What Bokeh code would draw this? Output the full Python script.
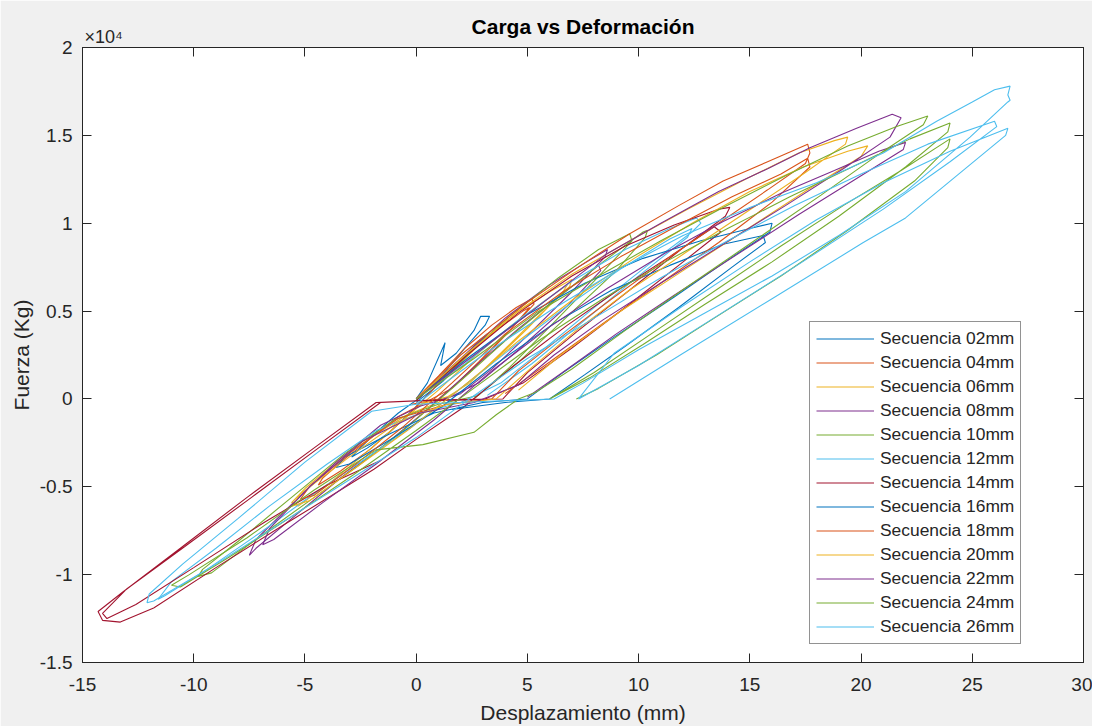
from bokeh.plotting import figure
from bokeh.models import Range1d, FixedTicker, LinearAxis, Legend, LegendItem, Title
from bokeh.embed import file_html
from bokeh.resources import INLINE

# ---------------- data ----------------
x_ticks = [-15, -10, -5, 0, 5, 10, 15, 20, 25, 30]
x_tick_labels = ["-15", "-10", "-5", "0", "5", "10", "15", "20", "25", "30"]
y_ticks = [-15000, -10000, -5000, 0, 5000, 10000, 15000, 20000]
y_tick_labels = ["-1.5", "-1", "-0.5", "0", "0.5", "1", "1.5", "2"]

series_names = ["Secuencia 02mm", "Secuencia 04mm", "Secuencia 06mm", "Secuencia 08mm",
                "Secuencia 10mm", "Secuencia 12mm", "Secuencia 14mm", "Secuencia 16mm",
                "Secuencia 18mm", "Secuencia 20mm", "Secuencia 22mm", "Secuencia 24mm",
                "Secuencia 26mm"]
series_colors = ["#0072BD", "#D95319", "#EDB120", "#7E2F8E", "#77AC30", "#4DBEEE", "#A2142F",
                 "#0072BD", "#D95319", "#EDB120", "#7E2F8E", "#77AC30", "#4DBEEE"]

# (displacement mm, force Kg)
seq02 = [(0.0, 0), (0.5, 900), (1.3, 3200), (1.1, 1900), (1.8, 2600), (2.6, 3900), (2.9, 4700),
         (3.3, 4700), (3.1, 4200), (2.2, 2900), (1.2, 1400), (0.2, 100), (-0.8, -800),
         (-1.8, -1900), (-2.6, -2900), (-2.9, -3300), (-2.2, -2800), (-1.2, -1900), (-0.2, -700),
         (0.8, 600), (1.8, 1900), (2.8, 3300), (3.2, 3700), (2.4, 2600), (1.2, 1000), (0.0, -200)]

seq04 = [(0.0, 0), (1.0, 1300), (2.2, 2900), (3.4, 4200), (4.5, 5200), (5.2, 5700), (5.3, 5400),
         (4.2, 3900), (2.8, 2100), (1.6, 600), (0.4, -200), (-0.8, -1000), (-2.0, -2200),
         (-3.2, -3400), (-4.2, -4500), (-4.4, -4900), (-3.4, -4100), (-2.0, -2800), (-0.6, -1200),
         (0.8, 600), (2.2, 2400), (3.6, 3900), (4.8, 5000), (5.1, 5200), (4.0, 3600), (2.4, 1500),
         (1.0, 0), (-0.2, -300)]

seq06 = [(0.0, 0), (1.5, 1400), (3.0, 3300), (4.5, 4900), (6.0, 6100), (7.0, 6800), (6.9, 6400),
         (5.4, 4600), (3.8, 2600), (2.4, 900), (1.0, -200), (-0.4, -900), (-1.8, -2000),
         (-3.4, -3400), (-5.0, -5100), (-5.6, -5900), (-5.3, -6100), (-3.8, -4700), (-2.2, -3000),
         (-0.6, -1200), (1.0, 500), (2.6, 2400), (4.2, 4100), (5.8, 5600), (6.8, 6500), (6.6, 6100),
         (5.0, 4000), (3.2, 1800), (1.6, 200), (0.2, -300)]

seq08 = [(0.0, 0), (2.0, 2300), (4.0, 4600), (6.0, 6500), (7.8, 7900), (8.6, 8500), (8.5, 8100),
         (7.0, 6100), (5.0, 3600), (3.4, 1700), (2.0, 300), (0.2, -400), (-1.6, -1500),
         (-3.6, -3600), (-5.6, -6000), (-7.2, -8000), (-7.5, -8900), (-7.2, -8500), (-5.4, -6600),
         (-3.4, -4500), (-1.4, -2600), (0.6, -500), (2.6, 1800), (4.6, 4000), (6.6, 6000),
         (8.2, 7600), (8.3, 7300), (6.8, 5300), (4.6, 2800), (2.8, 900), (1.2, -100)]

seq10 = [(0.0, 0), (2.0, 2200), (4.2, 4700), (6.4, 6900), (8.2, 8500), (9.6, 9400), (9.7, 9000),
         (8.0, 6700), (6.0, 4100), (4.2, 1800), (2.8, 200), (1.0, -300), (-1.0, -1200),
         (-3.2, -3100), (-5.6, -5600), (-8.0, -8100), (-9.6, -9700), (-9.8, -10100), (-9.2, -9900),
         (-7.0, -7800), (-4.8, -5800), (-2.6, -3800), (-0.4, -1600), (1.8, 800), (4.0, 3300),
         (6.2, 5600), (8.4, 7800), (10.2, 9500), (10.4, 9600), (10.3, 9200), (9.0, 7300),
         (6.8, 4700), (4.6, 2100), (2.6, 0)]

seq12 = [(0.0, 0), (2.2, 2000), (4.6, 4500), (7.0, 6700), (9.4, 8500), (11.4, 9700), (12.6, 10300),
         (12.8, 10000), (12.4, 9500), (10.4, 7600), (8.0, 5200), (5.8, 2900), (3.8, 900),
         (2.0, -200), (0.2, -800), (-1.8, -1800), (-4.0, -3700), (-6.6, -6100), (-9.0, -8500),
         (-11.0, -10400), (-11.6, -11400), (-11.3, -11200), (-9.4, -9700), (-7.0, -7600),
         (-4.6, -5400), (-2.4, -3500), (-0.2, -1600), (2.0, 600), (4.4, 3000), (6.8, 5300),
         (9.2, 7400), (11.4, 9100), (12.4, 9700), (12.2, 9200), (10.0, 7000), (7.6, 4500),
         (5.2, 2000), (3.2, 200)]

seq14 = [(0.0, -100), (2.2, 2400), (4.6, 4900), (7.0, 7000), (9.4, 8700), (11.6, 9900),
         (13.6, 10800), (14.1, 10900), (13.9, 10400), (12.0, 8600), (9.6, 6200), (7.2, 3800),
         (5.0, 1500), (3.9, 0), (1.0, -50), (-1.8, -200), (-4.6, -2800), (-7.6, -5600),
         (-10.6, -8500), (-13.2, -11000), (-14.3, -12100), (-14.1, -12600), (-13.3, -12700),
         (-11.8, -11900), (-9.0, -9600), (-6.0, -7200), (-3.8, -5500), (-1.9, -4000), (0.0, -2300),
         (2.1, -500), (4.4, 1900), (6.8, 4200), (9.2, 6300), (11.4, 8100), (13.4, 9800),
         (13.7, 9500), (12.0, 7800), (9.6, 5400), (7.0, 2900), (4.8, 900), (3.0, -50), (0.2, -100),
         (-1.6, -200), (-4.4, -2800), (-7.4, -5600), (-10.4, -8400), (-13.0, -10800),
         (-14.1, -12200), (-13.9, -12500), (-12.6, -11700), (-10.0, -9600), (-6.8, -7000),
         (-4.0, -4900), (-1.6, -3500)]

seq16 = [(0.0, 0), (2.4, 2400), (5.0, 4800), (7.6, 6600), (10.2, 8000), (12.8, 9000), (15.0, 9700),
         (16.0, 10000), (15.9, 9500), (14.0, 7900), (11.6, 5800), (9.0, 3600), (6.6, 1500),
         (5.0, 0), (3.0, -200), (0.8, -800), (-1.2, -2000), (-3.2, -3300), (-3.6, -3900),
         (-3.0, -3700), (-1.0, -2200), (1.2, -400), (3.6, 2000), (6.2, 4300), (8.8, 6200),
         (11.4, 7600), (13.8, 8800), (15.6, 9300), (15.7, 8900), (14.2, 7500), (11.8, 5200),
         (9.4, 3000), (7.6, 1400), (6.0, 0), (4.0, -200), (1.6, -600)]

seq18 = [(0.0, 0), (2.0, 2500), (5.0, 5500), (7.4, 7600), (9.6, 9400), (11.8, 11000),
         (13.8, 12400), (15.8, 13500), (17.6, 14500), (17.7, 14000), (17.5, 13400), (15.8, 11900),
         (13.6, 10000), (11.2, 7900), (8.8, 5700), (6.6, 3600), (4.6, 1600), (3.4, 0), (1.4, -300),
         (-0.8, -1100), (-2.8, -2900), (-4.8, -5000), (-5.2, -5700), (-4.6, -5500), (-2.6, -3600),
         (-0.6, -1600), (1.6, 900), (4.0, 3700), (6.6, 6100), (9.2, 8100), (11.8, 9900),
         (14.2, 11500), (16.4, 12800), (17.6, 13700), (17.7, 13200), (16.0, 11200), (13.6, 8900),
         (11.0, 6600), (8.4, 4300), (6.0, 2100), (4.0, 300)]

seq20 = [(0.0, 0), (2.2, 2500), (4.6, 5000), (7.0, 7100), (9.6, 9000), (12.2, 10800),
         (14.8, 12500), (17.2, 14000), (18.8, 14700), (19.4, 14900), (19.3, 14500), (17.4, 12800),
         (14.8, 10600), (12.2, 8400), (9.6, 6200), (7.2, 3900), (5.2, 1800), (3.6, 0), (1.4, -300),
         (-0.8, -1300), (-3.0, -3300), (-5.2, -5400), (-5.6, -6100), (-4.8, -5800), (-2.6, -3800),
         (-0.4, -1800), (2.0, 600), (4.6, 3300), (7.2, 5800), (9.8, 8000), (12.4, 10000),
         (15.0, 11800), (17.4, 13200), (19.4, 14100), (20.3, 14400), (20.0, 13800), (17.6, 11900),
         (14.8, 9600), (12.0, 7300), (9.2, 5000), (6.6, 2600), (4.6, 500)]

seq22 = [(0.0, 0), (2.4, 2300), (5.0, 4800), (8.5, 8200), (11.0, 10000), (13.6, 11800),
         (15.8, 13100), (17.7, 14300), (19.8, 15400), (21.4, 16200), (21.8, 16000), (21.3, 14900),
         (19.2, 13100), (16.6, 11000), (13.8, 8800), (11.0, 6600), (8.4, 4500), (6.2, 2500),
         (4.6, 800), (2.6, -200), (0.2, -800), (-2.4, -2400), (-4.8, -5000), (-6.6, -7400),
         (-6.9, -8300), (-6.4, -8000), (-4.2, -5900), (-1.8, -3700), (0.8, -1200), (3.4, 1600),
         (6.0, 4100), (8.6, 6300), (11.2, 8300), (13.8, 10100), (16.4, 11700), (18.8, 13000),
         (20.8, 14100), (22.0, 14600), (21.9, 14200), (20.0, 12700), (17.2, 10500), (14.4, 8200),
         (11.6, 5900), (9.0, 3700), (6.8, 1700), (5.0, 100)]

seq24 = [(0.0, 0), (2.6, 2300), (5.4, 4900), (8.2, 7000), (11.0, 9000), (13.8, 10900),
         (16.6, 12700), (19.4, 14400), (21.6, 15500), (23.0, 16100), (22.8, 15600), (21.0, 14100),
         (18.2, 11600), (15.2, 9000), (12.2, 6400), (9.4, 3900), (7.0, 1700), (5.4, 400), (4.6, 0),
         (3.6, -900), (2.6, -1900), (0.3, -2600), (-1.8, -2900), (-4.6, -5200), (-7.6, -7900),
         (-10.2, -10000), (-11.0, -10600), (-10.6, -10700), (-8.4, -9000), (-5.6, -6700),
         (-2.8, -4300), (0.0, -1800), (2.8, 800), (5.6, 3400), (8.4, 5700), (11.2, 7800),
         (14.0, 9700), (16.8, 11500), (19.6, 13200), (22.2, 14800), (24.0, 15700), (23.9, 15200),
         (22.0, 13200), (19.0, 10400), (16.0, 7800), (13.0, 5400), (10.2, 3100), (7.8, 1200),
         (6.0, 0), (8.0, 1500), (10.8, 3900), (13.6, 6300), (16.4, 8700), (19.2, 11000),
         (21.8, 13000), (24.0, 14800), (23.9, 14300), (22.4, 12400), (19.4, 9600), (16.4, 7000),
         (13.4, 4600), (10.8, 2500), (8.2, 600), (7.2, 0)]

seq26 = [(0.0, -300), (3.0, 2500), (6.0, 5000), (9.0, 7300), (12.0, 9300), (15.0, 10900),
         (18.0, 12300), (21.0, 14000), (23.4, 15800), (25.0, 16900), (26.0, 17600), (26.7, 17800),
         (26.6, 17300), (26.7, 17000), (26.6, 16900), (24.9, 14900), (22.0, 11800), (19.0, 9300),
         (16.0, 7000), (13.0, 4900), (10.0, 2800), (7.5, 900), (6.2, 0), (3.0, -150), (0.0, -300),
         (-2.0, -700), (-5.0, -3600), (-8.0, -6800), (-10.5, -9400), (-12.0, -11100),
         (-12.1, -11600), (-11.8, -11500), (-9.0, -9400), (-6.0, -7000), (-3.0, -4600),
         (0.0, -2200), (2.5, 100), (5.0, 2300), (8.0, 4600), (11.0, 6900), (14.0, 9000),
         (17.0, 11000), (20.0, 12800), (23.0, 14500), (26.0, 15800), (26.1, 15500), (24.0, 13500),
         (21.0, 10800), (17.0, 7500), (13.0, 4300), (10.0, 1900), (7.3, 0), (8.9, 2600),
         (12.0, 5300), (15.0, 7800), (18.0, 10200), (21.0, 12300), (24.0, 14100), (26.6, 15400),
         (26.5, 15000), (22.0, 10300), (20.1, 8900), (16.0, 5700), (12.0, 2600), (8.7, 0)]

series_data = [seq02, seq04, seq06, seq08, seq10, seq12, seq14, seq16, seq18, seq20, seq22, seq24, seq26]

# ---------------- figure ----------------
FONT = "Liberation Sans"
TXT = "#262626"

p = figure(frame_width=1001, frame_height=615,
           min_border_left=82, min_border_right=9, min_border_top=47, min_border_bottom=62,
           x_range=Range1d(-15, 30), y_range=Range1d(-15000, 20000),
           output_backend="svg", toolbar_location=None,
           background_fill_color="white", border_fill_color="#f0f0f0",
           outline_line_color=TXT, outline_line_width=1)

p.title.text = "Carga vs Deformación"
p.title.align = "center"
p.title.text_font = FONT
p.title.text_font_size = "21px"
p.title.text_font_style = "bold"
p.title.text_color = "#000000"
p.title.standoff = -27

p.xgrid.visible = False
p.ygrid.visible = False


def style_axis(ax, ticks, labels, show_labels=True):
    ax.ticker = FixedTicker(ticks=ticks)
    ax.major_tick_in = 9
    ax.major_tick_out = 0
    ax.minor_tick_line_color = None
    ax.axis_line_color = TXT
    ax.major_tick_line_color = TXT
    ax.major_label_text_font = FONT
    if show_labels:
        ax.major_label_overrides = {t: l for t, l in zip(ticks, labels)}
        ax.major_label_text_font_size = "19px"
        ax.major_label_text_color = TXT
    else:
        ax.major_label_overrides = {t: "" for t in ticks}
        ax.major_label_text_font_size = "1px"
        ax.major_label_text_color = None
        ax.major_label_standoff = 0
    ax.axis_label_text_font = FONT
    ax.axis_label_text_font_size = "21px"
    ax.axis_label_text_font_style = "normal"
    ax.axis_label_text_color = TXT


style_axis(p.xaxis[0], x_ticks, x_tick_labels)
style_axis(p.yaxis[0], y_ticks, y_tick_labels)
p.xaxis[0].axis_label = "Desplazamiento (mm)"
p.yaxis[0].axis_label = "Fuerza (Kg)"
p.xaxis[0].major_label_standoff = 15
p.xaxis[0].axis_label_standoff = 7
p.yaxis[0].major_label_standoff = 10
p.yaxis[0].axis_label_standoff = 4

top_ax = LinearAxis()
style_axis(top_ax, x_ticks, x_tick_labels, show_labels=False)
p.add_layout(top_ax, "above")
right_ax = LinearAxis()
style_axis(right_ax, y_ticks, y_tick_labels, show_labels=False)
p.add_layout(right_ax, "right")

exp_title = Title(text="×10⁴", align="left", offset=2, standoff=1,
                  text_font=FONT, text_font_size="18px", text_font_style="normal",
                  text_color=TXT)
p.add_layout(exp_title, "above")

items = []
for name, color, seq in zip(series_names, series_colors, series_data):
    xs = [pt[0] for pt in seq]
    ys = [pt[1] for pt in seq]
    r = p.line(xs, ys, line_color=color, line_width=1.1)
    items.append(LegendItem(label=name, renderers=[r]))

legend = Legend(items=items, location=(727, 18),
                label_text_font=FONT, label_text_font_size="17.4px", label_text_color=TXT,
                glyph_width=58, glyph_height=21, label_height=21, label_standoff=6,
                spacing=3, padding=6, margin=0,
                border_line_color=TXT, border_line_width=1,
                background_fill_color="white", background_fill_alpha=1.0)
p.add_layout(legend, "center")

open("out.html", "w").write(file_html(p, INLINE))
